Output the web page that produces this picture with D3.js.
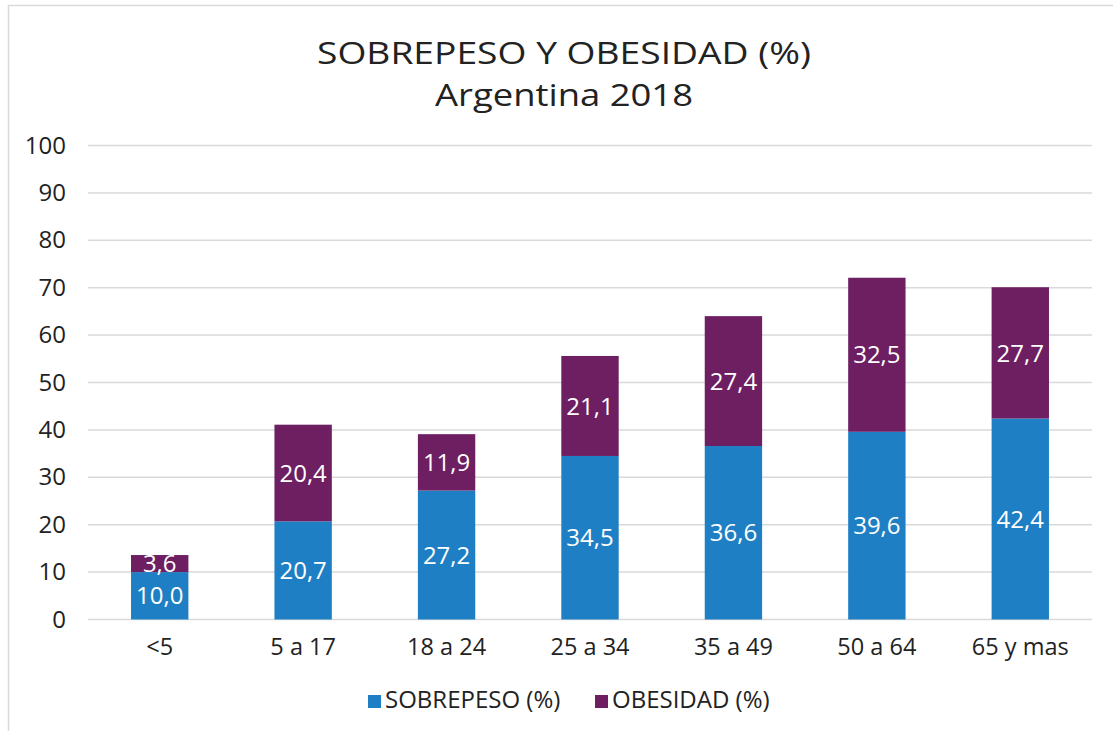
<!DOCTYPE html>
<html><head><meta charset="utf-8">
<script src="https://cdn.jsdelivr.net/npm/d3@7"></script>
<style>body{margin:0;background:#fff}svg{display:block}</style>
</head><body>
<svg id="c" width="1113" height="731"></svg>
<script>
const categories = ["<5","5 a 17","18 a 24","25 a 34","35 a 49","50 a 64","65 y mas"];
const sobrepeso = [10.0,20.7,27.2,34.5,36.6,39.6,42.4];
const obesidad = [3.6,20.4,11.9,21.1,27.4,32.5,27.7];
const seriesNames = ["SOBREPESO (%)","OBESIDAD (%)"];
const yTicks = [0,10,20,30,40,50,60,70,80,90,100];
const colors = ["#1F7FC4","#6D1F62"];
const font = "'Open Sans', 'Noto Sans', sans-serif";

const svg = d3.select("#c");
// outer frame
svg.append("rect").attr("x",8.5).attr("y",5.5).attr("width",1120).attr("height",740)
  .attr("fill","none").attr("stroke","#d9d9d9").attr("stroke-width",1.5);

const x = d3.scaleBand().domain(categories).range([88,1092]).paddingInner(0.6).paddingOuter(0.3);
const y = d3.scaleLinear().domain([0,100]).range([619.5,145.5]);

// title
const titleLines = [{t:"SOBREPESO Y OBESIDAD (%)", y:64, w:494},{t:"Argentina 2018", y:106, w:258}];
titleLines.forEach(l=>{
  svg.append("text").attr("text-anchor","middle").attr("fill","#222")
    .style("font-family",font).style("font-size","31px")
    .attr("x",564).attr("y",l.y).attr("textLength",l.w).attr("lengthAdjust","spacingAndGlyphs")
    .text(l.t);
});

// gridlines
svg.append("g").selectAll("line").data(yTicks).join("line")
  .attr("x1",88).attr("x2",1092).attr("y1",d=>y(d)).attr("y2",d=>y(d))
  .attr("stroke","#d9d9d9").attr("stroke-width",1.5);

// y axis
const ya = svg.append("g").attr("transform","translate(88,0)")
  .call(d3.axisLeft(y).tickValues(yTicks).tickSize(0).tickPadding(22));
ya.select(".domain").remove();
ya.selectAll("text").style("font-family",font).style("font-size","24px").attr("fill","#222");

// x axis
const xa = svg.append("g").attr("transform","translate(0,619.5)")
  .call(d3.axisBottom(x).tickSize(0).tickPadding(19));
xa.select(".domain").remove();
xa.selectAll("text").style("font-family",font).style("font-size","23.5px").attr("fill","#222");

// stacked data
const rows = categories.map((c,i)=>({cat:c, s:sobrepeso[i], o:obesidad[i]}));
const stack = d3.stack().keys(["s","o"])(rows);

const g = svg.append("g");
stack.forEach((layer,li)=>{
  g.append("g").selectAll("rect").data(layer).join("rect")
    .attr("x",d=>x(d.data.cat)).attr("width",x.bandwidth())
    .attr("y",d=>y(d[1])).attr("height",d=>y(d[0])-y(d[1]))
    .attr("fill",colors[li]);
  g.append("g").selectAll("text").data(layer).join("text")
    .attr("x",d=>x(d.data.cat)+x.bandwidth()/2)
    .attr("y",d=>(y(d[0])+y(d[1]))/2)
    .attr("dy","0.36em").attr("text-anchor","middle")
    .style("font-family",font).style("font-size","24px").attr("fill","#fff")
    .text(d=>d3.format(".1f")(d[1]-d[0]).replace(".",","));
});

// legend
const lx = [368,595];
seriesNames.forEach((n,i)=>{
  svg.append("rect").attr("x",lx[i]).attr("y",695).attr("width",13).attr("height",13).attr("fill",colors[i]);
  svg.append("text").attr("x",lx[i]+17).attr("y",708)
    .style("font-family",font).style("font-size","24px").attr("fill","#222").text(n);
});
</script>
</body></html>
